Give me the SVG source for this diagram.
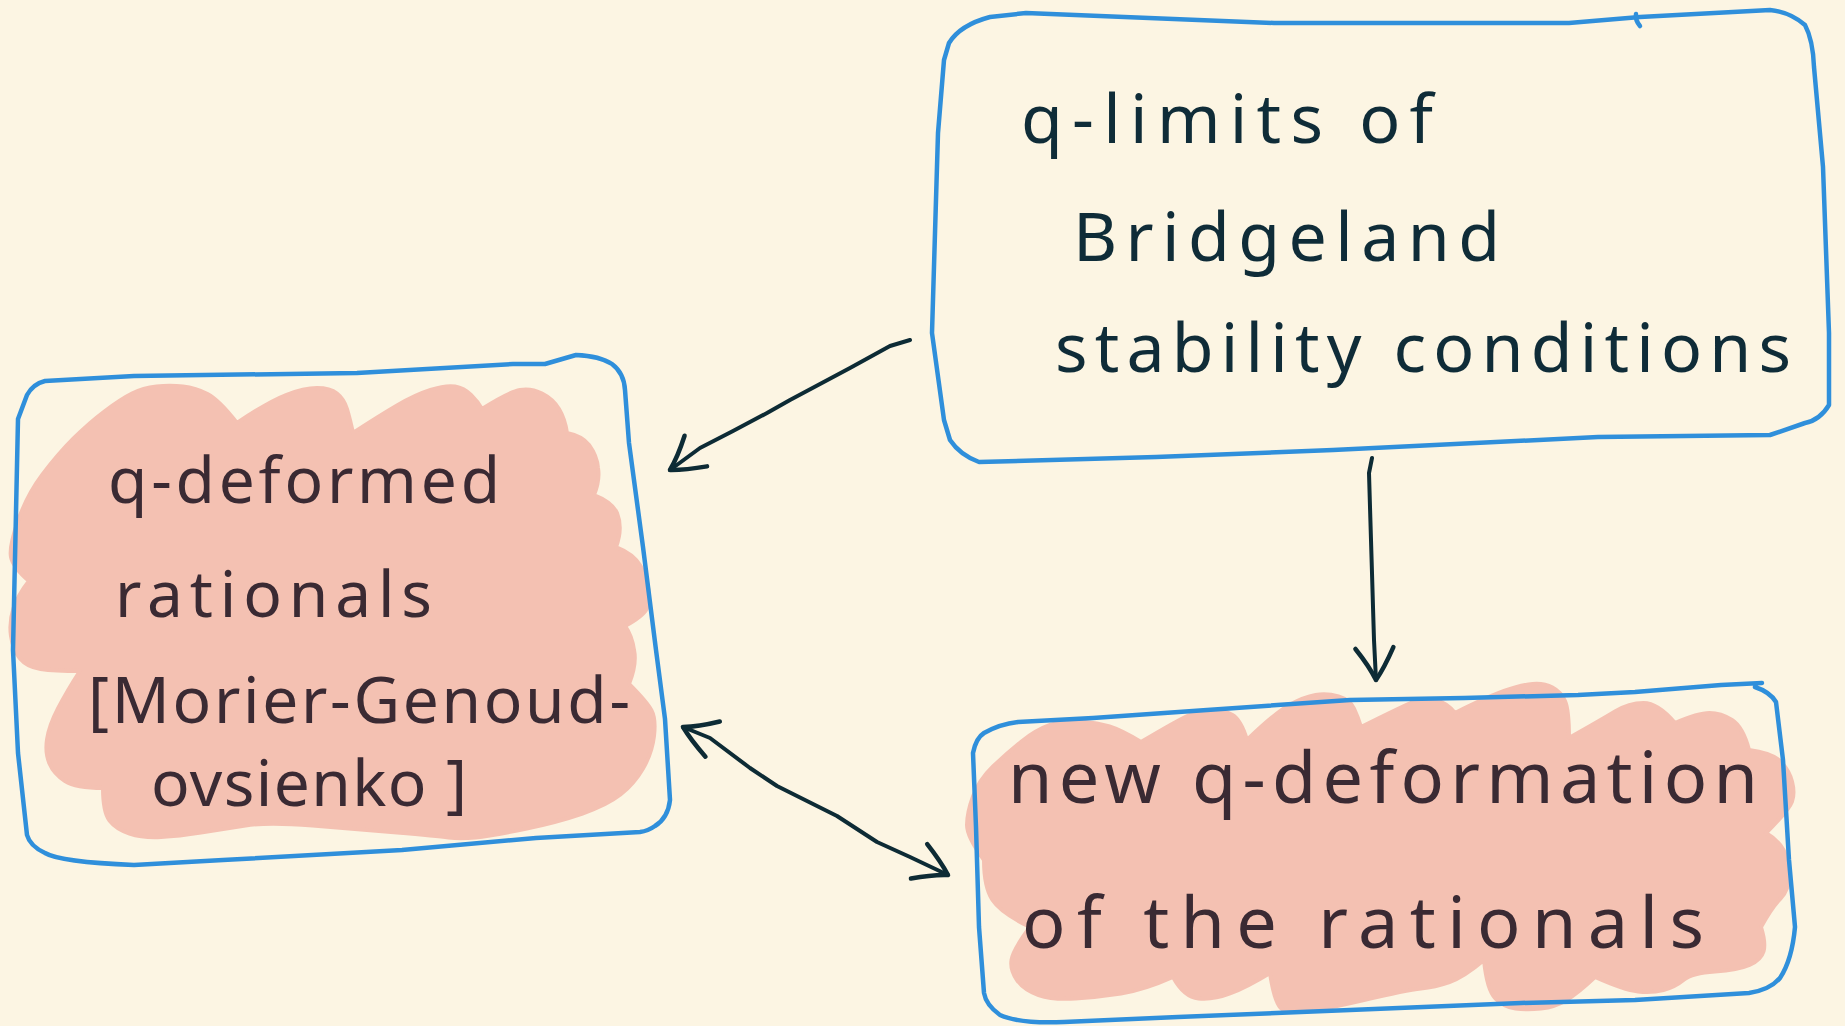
<svg xmlns="http://www.w3.org/2000/svg" width="1845" height="1026" viewBox="0 0 1845 1026">
<style>
.bg{fill:#fcf5e3}
.blob{fill:#f4c1b2;stroke:#f4c1b2;stroke-width:4;stroke-linejoin:round}
.box{fill:none;stroke:#2f8fdb;stroke-width:4.5;stroke-linejoin:round;stroke-linecap:round}
.arrow{fill:none;stroke:#0d2b35;stroke-width:4;stroke-linejoin:round;stroke-linecap:round}
.t{font-family:"Noto Sans","Liberation Sans",sans-serif}
.dark{fill:#0f2c38}
.onpink{fill:#3a2a33}
</style>
<defs>
<marker id="ah" markerUnits="userSpaceOnUse" viewBox="-40 -25 46 50" markerWidth="46" markerHeight="50" refX="0" refY="0" orient="auto-start-reverse">
<path d="M -32,-19 Q -12,-9 0,0 Q -14,6 -32,19" fill="none" stroke="#0d2b35" stroke-width="4.5" stroke-linecap="round" stroke-linejoin="round"/>
</marker>
</defs>
<rect class="bg" x="0" y="0" width="1845" height="1026"/>

<g id="node-qdeformed">
<path class="blob" d="M 29,581 Q 13,567 11,557 Q 9,547 18,521 Q 27,495 42.5,474.5 Q 58,454 73.5,438.5 Q 89,423 105,411 Q 121,399 132,393.5 Q 143,388 156.5,386.5 Q 170,385 183,386.5 Q 196,388 207.5,394 Q 219,400 237,423
Q 268,402 286,395 Q 304,388 317,388 Q 330,388 337,393.5 Q 344,399 347,409 Q 350,419 353,433
Q 379,416 397,405.5 Q 415,395 430.5,390 Q 446,385 455,386.5 Q 464,388 471,395 Q 478,402 482,409
Q 509,392 520,390 Q 531,388 542,393.5 Q 553,399 559,409 Q 565,419 567,433
Q 582,436 589,445 Q 597,456 598,468 Q 600,480 594,495
Q 612,502 617,513 Q 623,528 616,547
Q 634,554 640.5,566 Q 647,578 648.5,590 Q 650,602 646.5,609 Q 643,616 625,626
Q 632,636 634,650 Q 637,664 629,684
Q 647,702 651.5,710.5 Q 656,719 654,736 Q 652,753 643,768.5 Q 634,784 620.5,794.5 Q 607,805 582.5,813.5 Q 558,822 524.5,829 Q 491,836 475.5,837.5 Q 460,839 448.5,837.5 Q 437,836 397,832.5 Q 357,829 312.5,825.5 Q 268,822 245.5,825.5 Q 223,829 201,832.5 Q 179,836 161,837 Q 143,838 129.5,833.5 Q 116,829 109.5,820.5 Q 103,812 103,788
Q 76,788 65,781 Q 54,774 49.5,763.5 Q 45,753 47,739.5 Q 49,726 58,708.5 Q 67,691 80,671
Q 54,671 40.5,669 Q 27,667 20,658.5 Q 13,650 11,636 Q 9,622 13.5,608.5 Q 18,595 29,581 Z"/>
<path class="box" d="M 27,395 Q 33,384 45,381 L 134,376 L 357,373 L 513,364 L 545,364 L 576,355 Q 600,356 612,364 Q 624,373 625,390 L 629,443 L 643,547 L 656,650 L 665,719 L 670,800 Q 668,818 655,826 Q 648,831 640,832 L 536,838 L 402,850 L 223,860 L 134,865 Q 60,862 45,853 Q 30,846 27,835 L 18,753 L 13,650 L 16,512 L 18,419 Z"/>
<text class="t onpink" font-size="64" x="108" y="503" textLength="392">q-deformed</text>
<text class="t onpink" font-size="64" x="115" y="617" textLength="317">rationals</text>
<text class="t onpink" font-size="64" x="88" y="723" textLength="542">[Morier-Genoud-</text>
<text class="t onpink" font-size="64" x="151" y="806" textLength="316">ovsienko ]</text>
</g>

<g id="node-qlimits">
<path class="box" d="M 949,43 Q 960,25 990,17 L 1026,13 L 1274,23 L 1569,23 L 1640,17 L 1770,10 Q 1790,12 1805,25 Q 1813,40 1814,67 L 1823,167 L 1829,333 L 1829,405 Q 1820,420 1805,423 L 1770,435 L 1598,437 L 1333,450 L 1156,457 L 979,462 Q 960,455 950,440 L 944,420 L 932,333 L 938,133 L 944,60 Z"/>
<path class="box" d="M 1636,14 Q 1635,20 1640,26"/>
<text class="t dark" font-size="68" x="1021" y="143" textLength="412">q-limits of</text>
<text class="t dark" font-size="68" x="1073" y="261" textLength="427">Bridgeland</text>
<text class="t dark" font-size="68" x="1055" y="372" textLength="736">stability conditions</text>
</g>

<g id="node-newq">
<path class="blob" d="M 984,860 Q 967,837 967,825 Q 967,813 973,796.5 Q 979,780 993,766.5 Q 1007,753 1021.5,741.5 Q 1036,730 1050,725 Q 1064,720 1081,721.5 Q 1098,723 1109.5,726.5 Q 1121,730 1141,742
Q 1178,720 1189.5,715 Q 1201,710 1212.5,710 Q 1224,710 1232.5,715 Q 1241,720 1247,740
Q 1275,713 1289.5,705 Q 1304,697 1315.5,695 Q 1327,693 1338.5,696.5 Q 1350,700 1354,708.5 Q 1358,717 1361,727
Q 1395,710 1409.5,703.5 Q 1424,697 1435.5,700 Q 1447,703 1455,713
Q 1487,697 1504,691 Q 1521,685 1532.5,684 Q 1544,683 1552.5,687.5 Q 1561,692 1565,701 Q 1569,710 1569,738
Q 1601,720 1615,711.5 Q 1629,703 1643.5,703 Q 1658,703 1675,723
Q 1698,713 1709.5,713 Q 1721,713 1732,720 Q 1743,727 1749,750
Q 1772,753 1780.5,761.5 Q 1789,770 1792,781.5 Q 1795,793 1792,801.5 Q 1789,810 1766,833
Q 1778,840 1783.5,850 Q 1789,860 1789,875 Q 1789,890 1780.5,898.5 Q 1772,907 1761,927
Q 1766,943 1763.5,951.5 Q 1761,960 1749.5,965 Q 1738,970 1715,971.5 Q 1692,973 1683.5,980 Q 1675,987 1663.5,990 Q 1652,993 1638,991.5 Q 1624,990 1595,977
Q 1578,993 1566.5,1000 Q 1555,1007 1541,1008.5 Q 1527,1010 1515.5,1008.5 Q 1504,1007 1495.5,998.5 Q 1487,990 1484,960
Q 1464,977 1449.5,982 Q 1435,987 1421,988.5 Q 1407,990 1364,1000 Q 1321,1010 1306.5,1011.5 Q 1292,1013 1283.5,1010 Q 1275,1007 1270,973
Q 1247,987 1230,993.5 Q 1213,1000 1198.5,998.5 Q 1184,997 1173,977
Q 1144,990 1121,993.5 Q 1098,997 1075.5,998.5 Q 1053,1000 1038.5,995 Q 1024,990 1017,980 Q 1010,970 1011.5,960 Q 1013,950 1030,927
Q 1001,913 992.5,900 Q 984,887 984,860 Z"/>
<path class="box" d="M 1762,683 L 1721,685 L 1635,692 L 1578,695 L 1464,698 L 1350,700 L 1207,710 L 1093,718 L 1018,722 Q 1000,724 984,733 Q 976,738 973,753 L 976,827 L 979,927 L 984,993 Q 986,1005 1000,1015 Q 1020,1024 1064,1022 L 1178,1017 L 1350,1010 L 1521,1003 L 1635,1000 L 1749,993 Q 1770,990 1780,978 Q 1792,960 1795,927 L 1789,860 L 1783,760 L 1776,702 Q 1770,692 1755,687"/>
<text class="t onpink" font-size="72" x="1008" y="803" textLength="750">new q-deformation</text>
<text class="t onpink" font-size="72" x="1022" y="948" textLength="682">of the rationals</text>
</g>

<g id="connectors">
<path class="arrow" marker-end="url(#ah)" d="M 910,340 L 890,346 L 850,368 L 790,400 L 767,413 L 733,431 L 700,448 L 670,470"/>
<path class="arrow" marker-end="url(#ah)" d="M 1372,458 L 1369,473 L 1370,507 L 1372,573 L 1373,607 L 1374,640 L 1376,680"/>
<path class="arrow" marker-start="url(#ah)" marker-end="url(#ah)" d="M 683,727 L 710,738 L 750,768 L 777,786 L 837,816 L 877,842 L 910,857 L 948,875"/>
</g>
</svg>
